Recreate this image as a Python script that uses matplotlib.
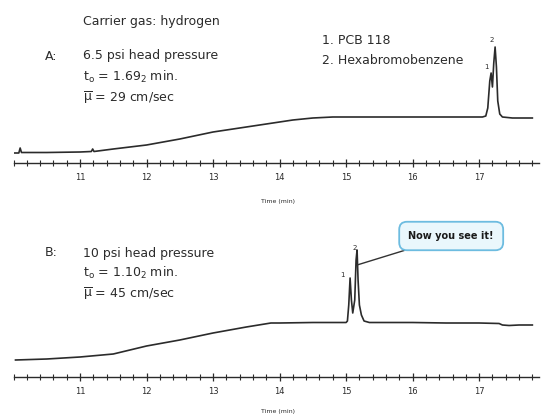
import matplotlib
matplotlib.use("Agg")
import matplotlib.pyplot as plt
from matplotlib.ticker import MultipleLocator

plt.rcParams['font.family'] = ['Liberation Sans Narrow', 'DejaVu Sans']
plt.rcParams['mathtext.fontset'] = 'custom'
plt.rcParams['mathtext.rm'] = 'DejaVu Sans'
plt.rcParams['mathtext.it'] = 'DejaVu Sans'
plt.rcParams['mathtext.default'] = 'regular'

# Run A: 6.5 psi head pressure (retention time in min, detector signal)
time_a = [10.0, 10.08, 10.1, 10.12, 10.5, 11.0, 11.17, 11.19, 11.21, 11.5, 12.0,
          12.5, 13.0, 13.5, 13.9, 14.2, 14.5, 14.8, 15.5, 16.0, 16.5, 17.05,
          17.1, 17.13, 17.16, 17.18, 17.2, 17.22, 17.24, 17.26, 17.28, 17.31,
          17.35, 17.5, 17.7, 17.8]
signal_a = [0, 0, 5, 0.5, 0.5, 1, 1.5, 4, 1.5, 4, 8,
            14, 21, 26, 30, 33, 35, 36, 36, 36, 36, 36,
            37, 45, 72, 80, 66, 90, 106, 86, 52, 39,
            36, 35, 35, 35]

# Run B: 10 psi head pressure
time_b = [10.03, 10.5, 11.0, 11.5, 12.0, 12.5, 13.0, 13.5, 13.87, 14.0, 14.5,
          15.0, 15.02, 15.04, 15.06, 15.08, 15.1, 15.13, 15.15, 15.165, 15.18,
          15.2, 15.23, 15.27, 15.35, 16.0, 16.5, 17.0, 17.3, 17.35, 17.45,
          17.6, 17.8]
signal_b = [0, 1, 3, 6, 14, 20, 27, 33, 37, 37, 37.5,
            37.5, 39, 55, 82, 60, 47, 60, 100, 110, 80,
            55, 45, 39, 37.5, 37.5, 37, 37, 36.5, 35, 34.5,
            35, 35]

peak_labels = ['1', '2']
compounds = ['1. PCB 118', '2. Hexabromobenzene']

W, H = 544, 419
fig = plt.figure(figsize=(W / 100, H / 100), dpi=100)


def fx(x):
    return x / W


def fy(y):
    return 1 - y / H


ink = '#2b2b2b'


def panel(top, axis_y, base_y, t, s):
    ax = fig.add_axes([fx(13.5), fy(axis_y), fx(539 - 13.5), (axis_y - top) / H])
    ax.plot(t, s, color=ink, lw=1.2)
    ax.set_xlim(10, 17.9)
    ax.set_ylim(base_y - axis_y, base_y - top)
    for side in ['top', 'left', 'right']:
        ax.spines[side].set_visible(False)
    ax.spines['bottom'].set_color(ink)
    ax.spines['bottom'].set_linewidth(1.0)
    ax.set_yticks([])
    ax.xaxis.set_major_locator(MultipleLocator(1))
    ax.xaxis.set_minor_locator(MultipleLocator(0.2))
    ax.set_xticks([11, 12, 13, 14, 15, 16, 17])
    ax.tick_params(axis='x', which='major', direction='inout', length=6,
                   width=0.9, color=ink, labelsize=6, pad=4, labelcolor=ink)
    ax.tick_params(axis='x', which='minor', direction='inout', length=4,
                   width=0.8, color=ink)
    ax.patch.set_alpha(0)
    return ax


ax_a = panel(20, 163, 153, time_a, signal_a)
ax_b = panel(230, 377, 360, time_b, signal_b)

fig.text(fx(278), fy(201), 'Time (min)', fontsize=4.5, ha='center', va='center', color=ink)
fig.text(fx(278), fy(411), 'Time (min)', fontsize=4.5, ha='center', va='center', color=ink)

fs = 9
fig.text(fx(83), fy(22), 'Carrier gas: hydrogen', fontsize=fs, va='center', color=ink)
fig.text(fx(45), fy(56), 'A:', fontsize=fs, va='center', color=ink)
fig.text(fx(83), fy(56), '6.5 psi head pressure', fontsize=fs, va='center', color=ink)
fig.text(fx(83), fy(77), '$t_o$ = 1.69$_2$ min.', fontsize=fs, va='center', color=ink)
fig.text(fx(83), fy(98), r'$\overline{\mu}$ = 29 cm/sec', fontsize=fs, va='center', color=ink)

fig.text(fx(45), fy(253), 'B:', fontsize=fs, va='center', color=ink)
fig.text(fx(83), fy(253), '10 psi head pressure', fontsize=fs, va='center', color=ink)
fig.text(fx(83), fy(273), '$t_o$ = 1.10$_2$ min.', fontsize=fs, va='center', color=ink)
fig.text(fx(83), fy(294), r'$\overline{\mu}$ = 45 cm/sec', fontsize=fs, va='center', color=ink)

fig.text(fx(322), fy(40), compounds[0], fontsize=fs, va='center', color=ink)
fig.text(fx(322), fy(61), compounds[1], fontsize=fs, va='center', color=ink)

# peak numbers
fig.text(fx(486), fy(67), peak_labels[0], fontsize=5, ha='center', va='center', color=ink)
fig.text(fx(492), fy(40), peak_labels[1], fontsize=5, ha='center', va='center', color=ink)
fig.text(fx(342), fy(275), peak_labels[0], fontsize=5, ha='center', va='center', color=ink)
fig.text(fx(355), fy(248), peak_labels[1], fontsize=5, ha='center', va='center', color=ink)

# callout
i2 = signal_b.index(max(signal_b))
ax_b.annotate('Now you see it!', xy=(time_b[i2], 95), xycoords='data',
              xytext=(16.58, 124), textcoords='data', ha='center', va='center',
              fontsize=7, fontweight='bold', color='#1a1a1a',
              bbox=dict(boxstyle='round,pad=0.95,rounding_size=0.8',
                        fc='#eaf7fc', ec='#6dbce0', lw=1.3),
              arrowprops=dict(arrowstyle='-', color='#333333', lw=1.0,
                              shrinkA=0, shrinkB=0), annotation_clip=False)

fig.savefig('out.png', dpi=100)
